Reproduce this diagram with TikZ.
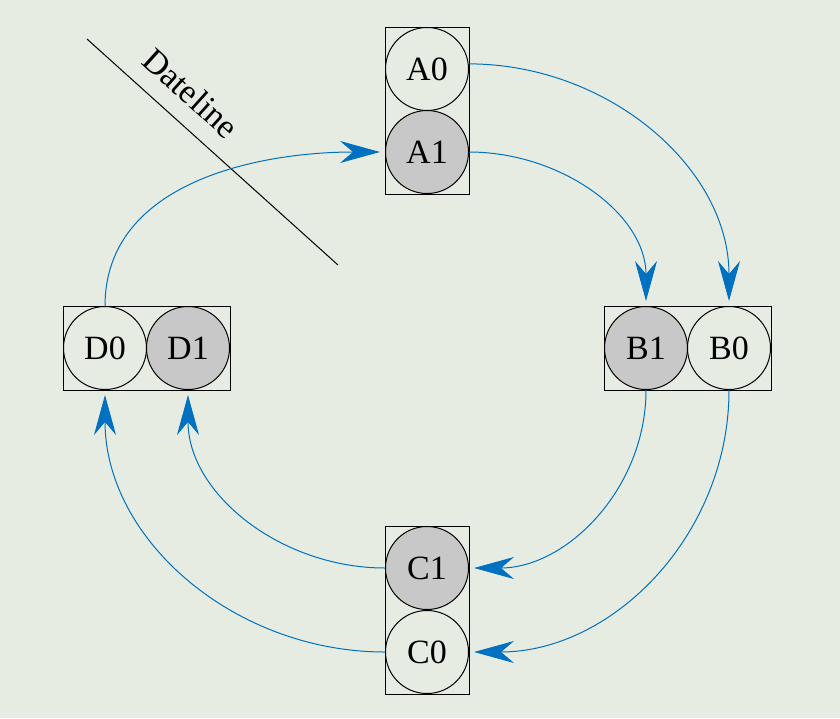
\documentclass[tikz,border=0pt]{standalone}
\usepackage{fontspec}
\setmainfont{Liberation Serif}
\usetikzlibrary{arrows.meta,fit}
\definecolor{bgc}{RGB}{230,236,226}
\definecolor{arrblue}{RGB}{0,112,192}
\definecolor{fillgray}{RGB}{200,200,200}
\begin{document}
\begin{tikzpicture}[x=0.5pt,y=-0.5pt,
  vc/.style={circle,draw=black,line width=0.5pt,minimum size=41.5pt,inner sep=0pt,font=\fontsize{17}{19}\selectfont},
  vcf/.style={vc,fill=fillgray},
  boxst/.style={draw=black,line width=0.5pt,inner sep=0pt},
  link/.style={draw=arrblue,line width=0.5pt,-{Stealth[length=20pt,width=11pt,inset=6.5pt]},shorten >=2.5pt}]
\fill[bgc] (0,0) rectangle (840,718);
\useasboundingbox (0,0) rectangle (840,718);
% nodes
\node[vc]  (a0) at (427,69) {A0};
\node[vcf] (a1) at (427,152) {A1};
\node[vcf] (b1) at (646,348) {B1};
\node[vc]  (b0) at (729,348) {B0};
\node[vcf] (c1) at (427,568) {C1};
\node[vc]  (c0) at (427,652) {C0};
\node[vc]  (d0) at (105,348) {D0};
\node[vcf] (d1) at (188,348) {D1};
\node[boxst,fit=(a0)(a1)] (boxa) {};
\node[boxst,fit=(b1)(b0)] (boxb) {};
\node[boxst,fit=(c1)(c0)] (boxc) {};
\node[boxst,fit=(d0)(d1)] (boxd) {};
% dateline
\coordinate (dl1) at (87,39);
\coordinate (dl2) at (338,265);
\draw[line width=0.5pt] (dl1) -- (dl2);
\node[rotate=-42,font=\fontsize{17}{19}\selectfont] (dlt) at (191,93) {Dateline};
% connectors
\draw[link] (a0.7) to[out=0,in=90] (b0.north);
\draw[link] (a1.east) to[out=0,in=90] (b1.north);
\draw[link] (b1.south) to[out=-90,in=0] (c1.east);
\draw[link] (b0.south) to[out=-90,in=0] (c0.east);
\draw[link] (c1.west) to[out=180,in=-90] (d1.south);
\draw[link] (c0.west) to[out=180,in=-90] (d0.south);
\draw[link] (d0.north) to[out=90,in=180] (a1.west);
\end{tikzpicture}
\end{document}
